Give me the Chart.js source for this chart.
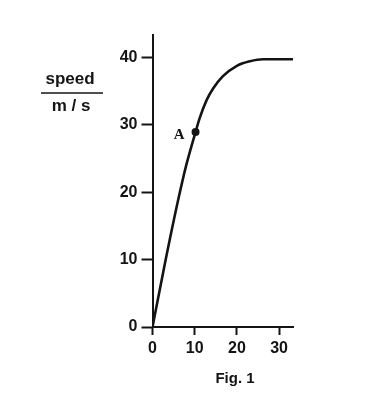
<!DOCTYPE html>
<html>
<head>
<meta charset="utf-8">
<script src="https://cdn.jsdelivr.net/npm/chart.js@4/dist/chart.umd.min.js"></script>
<style>
  html, body { margin: 0; padding: 0; background: #fff; }
  #wrap { width: 384px; height: 400px; }
</style>
</head>
<body>
<div id="wrap"><canvas id="c" width="384" height="400"></canvas></div>
<script>
// ---- data ----
const timeValues  = [0, 3, 6, 8, 10.2, 11.2, 12.8, 14.4, 16.7, 19.9, 23.1, 26.2, 33.3];
const speedValues = [0, 9.6, 18.6, 24, 28.9, 31, 33.6, 35.4, 37.2, 38.7, 39.4, 39.7, 39.7];
const pointA      = { x: 10.2, y: 28.9, label: 'A' };
const xTickValues = [0, 10, 20, 30];
const yTickValues = [0, 10, 20, 30, 40];
const yTitleTop    = 'speed';
const yTitleBottom = 'm / s';
const caption      = 'Fig. 1';
const xMax = 33.3, yMax = 43.3;

const curve = timeValues.map((t, i) => ({ x: t, y: speedValues[i] }));
const INK = '#141414';

const textPlugin = {
  id: 'texts',
  afterDraw(chart) {
    const ctx = chart.ctx;
    const xs = chart.scales.x, ys = chart.scales.y;
    ctx.save();
    ctx.fillStyle = INK;
    ctx.strokeStyle = INK;
    // y title: speed over m/s
    ctx.font = 'bold 17px "Liberation Sans", Arial, sans-serif';
    ctx.textAlign = 'center';
    ctx.textBaseline = 'alphabetic';
    ctx.fillText(yTitleTop, 70, 84);
    ctx.fillText(yTitleBottom, 71, 111);
    ctx.lineWidth = 1.6;
    ctx.beginPath();
    ctx.moveTo(41, 93);
    ctx.lineTo(103, 93);
    ctx.stroke();
    // label A
    const px = xs.getPixelForValue(pointA.x), py = ys.getPixelForValue(pointA.y);
    ctx.font = 'bold 15px "Liberation Serif", "Times New Roman", serif';
    ctx.textAlign = 'right';
    ctx.fillText(pointA.label, px - 11, py + 7);
    // caption
    ctx.font = 'bold 15px "Liberation Sans", Arial, sans-serif';
    ctx.textAlign = 'center';
    ctx.fillText(caption, 235, 383);
    ctx.restore();
  }
};

new Chart(document.getElementById('c'), {
  type: 'scatter',
  data: {
    datasets: [
      {
        data: curve,
        showLine: true,
        borderColor: INK,
        borderWidth: 2.6,
        pointRadius: 0,
        cubicInterpolationMode: 'monotone',
        fill: false
      },
      {
        data: [{ x: pointA.x, y: pointA.y }],
        pointRadius: 4,
        pointBackgroundColor: INK,
        pointBorderColor: INK,
        pointBorderWidth: 0
      }
    ]
  },
  options: {
    responsive: false,
    animation: false,
    devicePixelRatio: 1,
    layout: { padding: { left: 0, right: 91, top: 35, bottom: 0 } },
    plugins: { legend: { display: false }, tooltip: { enabled: false } },
    scales: {
      x: {
        type: 'linear',
        min: 0, max: xMax,
        afterBuildTicks(s) { s.ticks = xTickValues.map(v => ({ value: v })); },
        afterFit(s) { s.height = 73; },
        border: { display: true, color: INK, width: 2 },
        grid: { drawOnChartArea: false, drawTicks: true, tickLength: 8, tickWidth: 2, tickColor: INK },
        ticks: { color: INK, padding: 4, font: { family: '"Liberation Sans", Arial, sans-serif', size: 16, weight: 'bold' } }
      },
      y: {
        type: 'linear',
        min: 0, max: yMax,
        afterBuildTicks(s) { s.ticks = yTickValues.map(v => ({ value: v })); },
        afterFit(s) { s.width = 152.5; },
        border: { display: true, color: INK, width: 2 },
        grid: { drawOnChartArea: false, drawTicks: true, tickLength: 11, tickWidth: 2, tickColor: INK },
        ticks: { color: INK, padding: 4, font: { family: '"Liberation Sans", Arial, sans-serif', size: 16, weight: 'bold' } }
      }
    }
  },
  plugins: [textPlugin]
});
</script>
</body>
</html>
